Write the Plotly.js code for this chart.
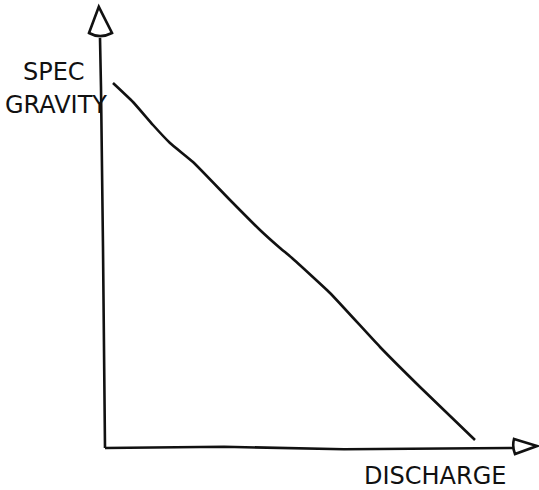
<!DOCTYPE html>
<html>
<head>
<meta charset="utf-8">
<script src="https://cdn.plot.ly/plotly-3.0.1.min.js"></script>
<style>html,body{margin:0;padding:0;background:#fff;}#chart{width:539px;height:490px;}</style>
</head>
<body>
<div id="chart"></div>
<script>
// Hand-drawn curve: discharge (x) vs specific gravity (y), arbitrary units
var discharge = [2.25, 7.25, 12.25, 16.5, 22.25, 31.5, 39, 44, 47, 56.5, 69, 79, 92.75];
var specGravity = [91.25, 86.5, 80.75, 76.25, 71.5, 62, 54.5, 50, 47.5, 38.75, 25.25, 15.25, 2];
var yLabelLines = ["SPEC", "GRAVITY"];
var xLabel = "DISCHARGE";

var font = "'DejaVu Sans', sans-serif";

var traces = [{
  x: discharge,
  y: specGravity,
  mode: "lines",
  type: "scatter",
  line: {color: "#111", width: 2.6, shape: "spline", smoothing: 0.4},
  hoverinfo: "skip",
  showlegend: false
}];

var ink = {color: "#111", width: 2.6};
var layout = {
  width: 539, height: 490,
  margin: {l: 0, r: 0, t: 0, b: 0},
  paper_bgcolor: "#fff", plot_bgcolor: "#fff",
  showlegend: false,
  xaxis: {range: [-26, 108.75], visible: false, fixedrange: true},
  yaxis: {range: [-10.5, 112], visible: false, fixedrange: true},
  shapes: [
    {type: "path", xref: "x", yref: "y", path: "M 0.25,0 L -0.25,50 L -0.75,90 L -1,102.5", line: ink},
    {type: "path", xref: "x", yref: "y", path: "M 0.25,0 L 30,0.3 L 60,-0.3 L 102.5,0", line: ink},
    {type: "path", xref: "x", yref: "y", path: "M -3.75,103.75 L -1.3,110.3 L 2,103.75 Q -1,102.2 -3.75,103.75 Z", line: ink, fillcolor: "rgba(0,0,0,0)"},
    {type: "path", xref: "x", yref: "y", path: "M 102.5,2.25 L 108.25,0.5 L 102.75,-1.5 Q 102,0.4 102.5,2.25 Z", line: ink, fillcolor: "rgba(0,0,0,0)"}
  ],
  annotations: [
    {xref: "x", yref: "y", x: -12.6, y: 94, text: yLabelLines[0], showarrow: false, font: {family: font, size: 24, color: "#111"}},
    {xref: "x", yref: "y", x: -11.9, y: 85.75, text: yLabelLines[1], showarrow: false, font: {family: font, size: 24, color: "#111"}},
    {xref: "x", yref: "y", x: 82.75, y: -7.0, text: xLabel, showarrow: false, borderpad: 0, font: {family: font, size: 24, color: "#111"}}
  ]
};

Plotly.newPlot("chart", traces, layout, {staticPlot: true, displayModeBar: false});
</script>
</body>
</html>
